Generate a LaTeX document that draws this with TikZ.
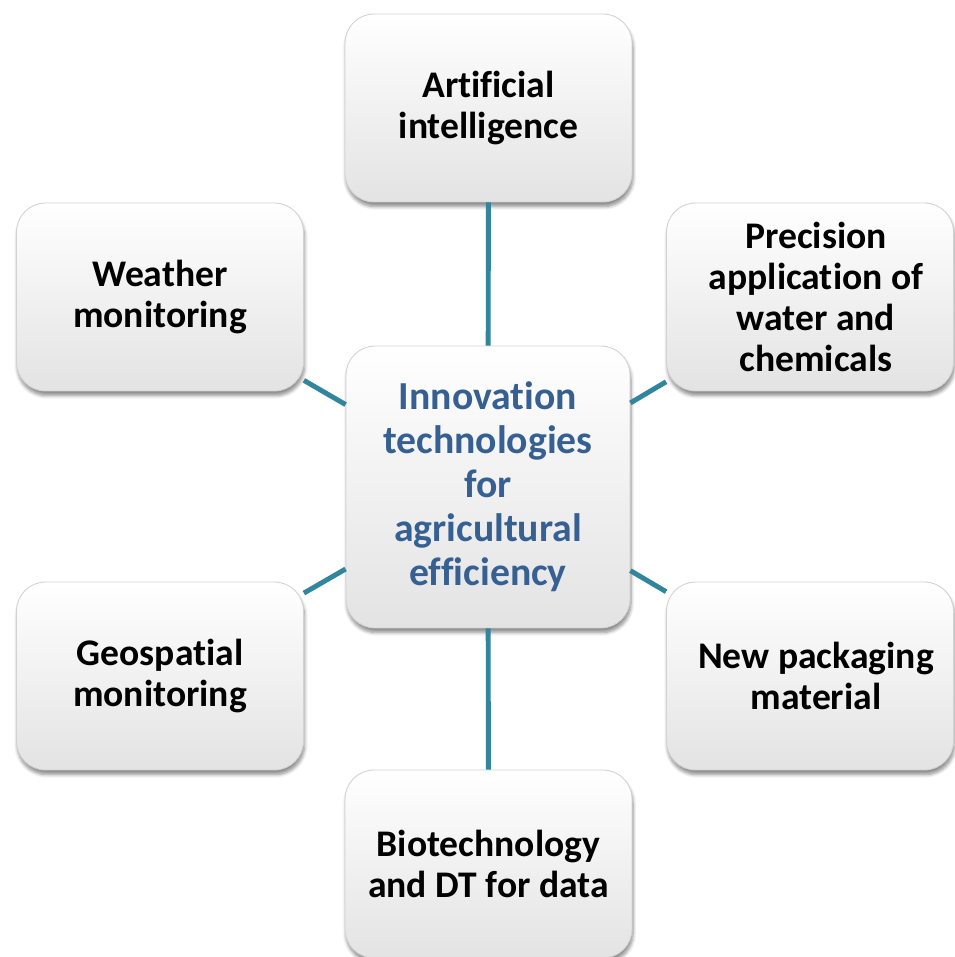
\documentclass[tikz,border=0pt]{standalone}
\usepackage{fontspec}
\setmainfont{Carlito}[Ligatures={NoCommon}]
\usetikzlibrary{shadows.blur}
\definecolor{linkc}{RGB}{49,133,156}
\definecolor{centc}{RGB}{54,96,146}
\tikzset{
  outerfont/.style={font=\fontsize{21.4}{23.4}\selectfont\bfseries},
  boxbase/.style={rounded corners=0.58cm, draw=gray!35, line width=0.5pt,
    top color=white, bottom color=gray!22, align=center,
    outerfont, text=black,
    blur shadow={shadow xshift=0.6pt, shadow yshift=-2.6pt, shadow blur steps=6, shadow opacity=45}},
  outerbox/.style={boxbase, minimum width=5.74cm, minimum height=3.76cm, inner sep=0pt},
  centerbox/.style={boxbase, minimum width=5.68cm, minimum height=5.64cm, inner sep=0pt,
    font=\fontsize{22.6}{25}\selectfont\bfseries, text=centc},
  link/.style={draw=linkc, line width=2.8pt}
}
\begin{document}
\begin{tikzpicture}[x=0.02cm, y=-0.02cm]
\useasboundingbox (0,0) rectangle (954,957);
\node[centerbox] (c) at (488,487) {Innovation\\technologies\\for\\agricultural\\efficiency};
\node[outerbox] (t) at (488.5,108) {Artificial\\intelligence};
\node[outerbox] (lt) at (160,297) {Weather\\monitoring};
\node[outerbox] (rt) at (810,297) {};
\node[align=center, outerfont] (rtT) at (816,297) {Precision\\application of\\water and\\chemicals};
\node[outerbox] (lb) at (160,676) {Geospatial\\monitoring};
\node[outerbox] (rb) at (810,676) {};
\node[align=center, outerfont] (rbT) at (816,676) {New packaging\\material};
\node[outerbox] (b) at (488.5,864) {Biotechnology\\and DT for data};
\draw[link] (c) -- (t);
\draw[link] (c) -- (b);
\draw[link] (c) -- (lt);
\draw[link] (c) -- (rt);
\draw[link] (c) -- (lb);
\draw[link] (c) -- (rb);
\end{tikzpicture}
\end{document}
